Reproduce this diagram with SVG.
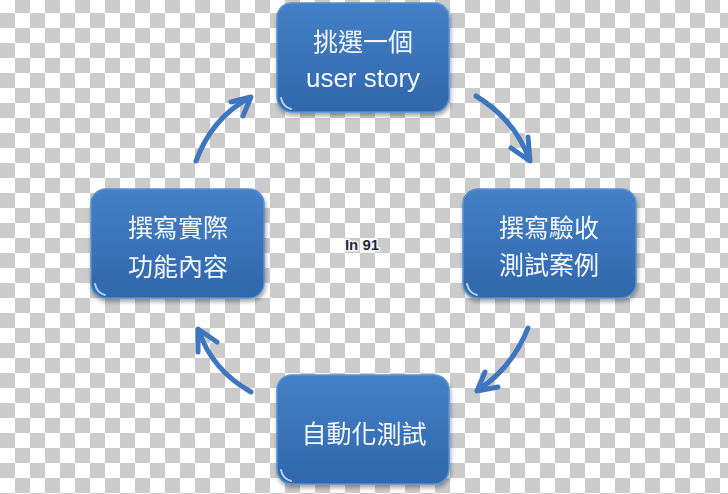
<svg xmlns="http://www.w3.org/2000/svg" width="728" height="494" viewBox="0 0 728 494">
<style>
.box{fill:url(#g);stroke:#5a90d0;stroke-width:1.5}
.hl{fill:none;stroke:#d8e8ff;stroke-width:2;stroke-linecap:round;opacity:0.8}
.t{fill:#f4f8ff;font-family:"Liberation Sans","Noto Sans CJK TC",sans-serif;font-size:26px;text-anchor:middle}
.cjk{font-family:"Noto Sans CJK TC","Liberation Sans",sans-serif;font-size:25px}
.arr{fill:none;stroke:#3d76bf;stroke-width:5;stroke-linecap:round;stroke-linejoin:round}
.mid{font-family:"Liberation Sans",sans-serif;font-size:15px;font-weight:bold;fill:#1f2840;stroke:#ffffff;stroke-width:2.5;paint-order:stroke;text-anchor:middle}
</style>
<defs>
<pattern id="ck" x="0" y="-2" width="30" height="30" patternUnits="userSpaceOnUse">
<rect width="30" height="30" fill="#ffffff"/>
<rect x="15" y="0" width="15" height="15" fill="#cbcbcb"/>
<rect x="0" y="15" width="15" height="15" fill="#cbcbcb"/>
</pattern>
<linearGradient id="g" x1="0" y1="0" x2="0" y2="1">
<stop offset="0" stop-color="#4580c6"/>
<stop offset="0.5" stop-color="#3a73b9"/>
<stop offset="1" stop-color="#3066ab"/>
</linearGradient>
<filter id="sh" x="-10%" y="-10%" width="120%" height="130%">
<feDropShadow dx="1" dy="3" stdDeviation="2" flood-color="#000" flood-opacity="0.35"/>
</filter>
</defs>
<rect width="728" height="494" fill="url(#ck)"/>
<g id="connectors">
<path class="arr" d="M196,161 Q212,118 249,98"/>
<polyline class="arr" points="231,102 251,97 243,116"/>
<path class="arr" d="M476,96 Q515,120 529,159"/>
<polyline class="arr" points="528,137 530,161 511,148"/>
<path class="arr" d="M528,328 Q512,368 478,390"/>
<polyline class="arr" points="485,372 477,391 498,387"/>
<path class="arr" d="M251,392 Q212,370 199,331"/>
<polyline class="arr" points="198,352 198,329 217,342"/>
</g>
<g id="node-top" filter="url(#sh)">
<rect class="box" x="277" y="3" width="172" height="109" rx="15"/>
<path class="hl" d="M281,98 Q283,107 291,109"/>
<text class="t cjk" x="363" y="51">挑選一個</text>
<text class="t" x="363" y="87">user story</text>
</g>
<g id="node-right" filter="url(#sh)">
<rect class="box" x="463" y="189" width="173" height="109" rx="15"/>
<path class="hl" d="M467,284 Q469,293 477,295"/>
<text class="t cjk" x="549" y="237">撰寫驗收</text>
<text class="t cjk" x="549" y="274">測試案例</text>
</g>
<g id="node-bottom" filter="url(#sh)">
<rect class="box" x="277" y="375" width="172" height="109" rx="15"/>
<path class="hl" d="M281,470 Q283,479 291,481"/>
<text class="t cjk" x="364" y="443">自動化測試</text>
</g>
<g id="node-left" filter="url(#sh)">
<rect class="box" x="91" y="189" width="173" height="109" rx="15"/>
<path class="hl" d="M95,284 Q97,293 105,295"/>
<text class="t cjk" x="178" y="237">撰寫實際</text>
<text class="t cjk" x="178" y="276">功能內容</text>
</g>
<g id="label-center">
<text class="mid" x="362" y="250">In 91</text>
</g>
</svg>
